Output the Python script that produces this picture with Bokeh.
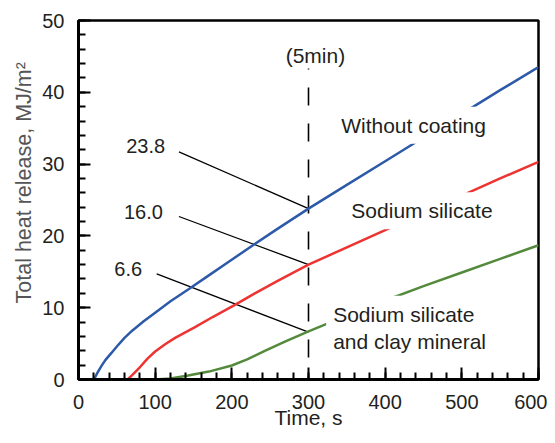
from bokeh.plotting import figure
from bokeh.models import Range1d, SingleIntervalTicker, Label, Title
from bokeh.embed import file_html
from bokeh.resources import INLINE

# ---- data ----
t_without = [0, 20, 25, 30, 35, 43, 50, 60, 70, 85, 100, 120, 144, 170, 196, 229, 257, 300, 350, 400, 450, 500, 550, 600]
q_without = [0, 0, 1.0, 1.9, 2.7, 3.7, 4.6, 5.8, 6.8, 8.1, 9.3, 10.9, 12.6, 14.5, 16.4, 18.8, 20.8, 23.8, 27.1, 30.4, 33.7, 37.0, 40.3, 43.5]

t_silicate = [0, 64, 70, 80, 90, 100, 113, 126, 152, 175, 204, 230, 261, 300, 350, 400, 450, 500, 550, 600]
q_silicate = [0, 0, 0.6, 1.7, 2.9, 3.9, 4.9, 5.8, 7.3, 8.7, 10.4, 12.0, 13.8, 16.0, 18.4, 20.8, 23.2, 25.6, 28.0, 30.3]

t_clay = [0, 100, 120, 143, 170, 200, 220, 243, 270, 300, 350, 400, 450, 500, 550, 600]
q_clay = [0, 0, 0.15, 0.55, 1.1, 1.95, 2.8, 4.0, 5.3, 6.7, 8.9, 11.0, 13.0, 14.9, 16.8, 18.7]

marker_time = 300
marker_values = ["23.8", "16.0", "6.6"]
marker_y = [23.8, 16.0, 6.6]
callout_x0 = [131, 131, 102]
callout_y0 = [31.7, 22.7, 14.7]
value_label_x = [113, 110, 83]
value_label_y = [32.5, 23.3, 15.4]

series_names = ["Without coating", "Sodium silicate", "Sodium silicate\nand clay mineral"]
x_title = "Time, s"
y_title = "Total heat release, MJ/m\u00b2"

TXT = "#231f20"
FONT = "Liberation Sans"

p = figure(width=547, height=435, output_backend="svg", toolbar_location=None,
           x_range=Range1d(0, 600), y_range=Range1d(0, 50),
           min_border_left=78, min_border_right=9, min_border_top=20, min_border_bottom=56,
           background_fill_color="white", border_fill_color="white")
p.grid.visible = False
p.outline_line_color = "black"
p.outline_line_width = 2.5

for ax, interval in ((p.xaxis[0], 100), (p.yaxis[0], 10)):
    ax.ticker = SingleIntervalTicker(interval=interval, num_minor_ticks=5)
    ax.axis_line_width = 3
    ax.axis_line_color = "black"
    ax.major_tick_in = 12
    ax.major_tick_out = 0
    ax.minor_tick_in = 7
    ax.minor_tick_out = 0
    ax.major_tick_line_width = 2
    ax.minor_tick_line_width = 2
    ax.major_tick_line_color = "black"
    ax.minor_tick_line_color = "black"
    ax.major_label_text_font = FONT
    ax.major_label_text_font_size = "20px"
    ax.major_label_text_color = TXT
p.xaxis.major_label_standoff = 15
p.yaxis.major_label_standoff = 14

# x axis title
p.xaxis.axis_label = x_title
p.xaxis.axis_label_text_font = FONT
p.xaxis.axis_label_text_font_size = "21px"
p.xaxis.axis_label_text_font_style = "normal"
p.xaxis.axis_label_text_color = TXT
p.xaxis.axis_label_standoff = -6

# y axis title as a side title, anchored from the bottom of the frame
yt = Title(text=y_title, align="left", offset=76, standoff=8,
           text_font=FONT, text_font_size="21.5px", text_font_style="normal",
           text_color="#555555")
p.add_layout(yt, "left")

# callout lines
p.segment(x0=callout_x0, y0=callout_y0, x1=[marker_time] * 3, y1=marker_y,
          line_color="black", line_width=1.3)

# 5 min marker
p.line(x=[marker_time, marker_time], y=[43.3, 0], line_color="black", line_width=1.6,
       line_dash="18 18", line_dash_offset=17)

# curves
p.line(t_without, q_without, line_color="#2d5aa8", line_width=2.5)
p.line(t_silicate, q_silicate, line_color="#ee3333", line_width=2.5)
p.line(t_clay, q_clay, line_color="#548a3c", line_width=2.5)

def lab(x, y, text, size="21px", align="center", baseline="middle", bg=False, **kw):
    l = Label(x=x, y=y, text=text, text_align=align, text_baseline=baseline,
              text_font=FONT, text_font_size=size, text_color=TXT, **kw)
    if bg:
        l.background_fill_color = "white"
        l.padding = 7
    p.add_layout(l)

for x, y, s in zip(value_label_x, value_label_y, marker_values):
    lab(x, y, s, size="20px", align="right")

lab(309, 45.1, "(5min)")
lab(437, 35.4, series_names[0], bg=True)
lab(448, 23.5, series_names[1], bg=True)
lab(323, 7.15, series_names[2], align="left", bg=True, text_line_height=1.2)

open("out.html", "w").write(file_html(p, INLINE))
